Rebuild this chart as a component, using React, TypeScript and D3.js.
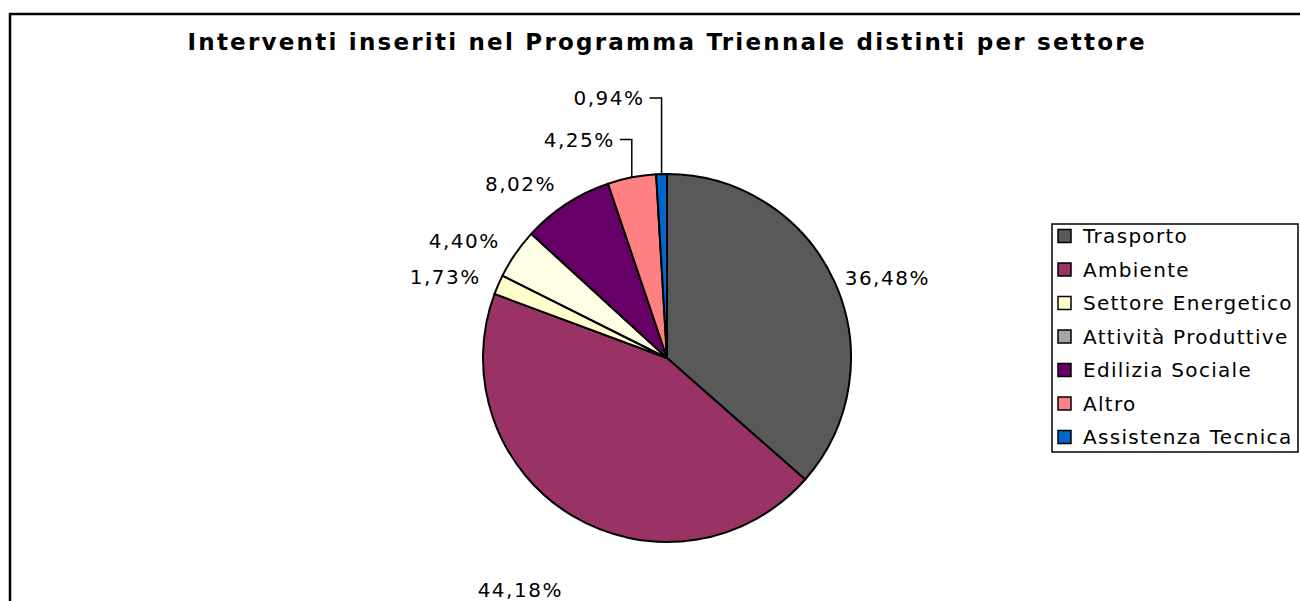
import React from "react";
import * as d3 from "d3";

const categories = [
  "Trasporto",
  "Ambiente",
  "Settore Energetico",
  "Attività Produttive",
  "Edilizia Sociale",
  "Altro",
  "Assistenza Tecnica",
];
const values = [36.48, 44.18, 1.73, 4.4, 8.02, 4.25, 0.94];
const labels = ["36,48%", "44,18%", "1,73%", "4,40%", "8,02%", "4,25%", "0,94%"];
const title = "Interventi inseriti nel Programma Triennale distinti per settore";

const sliceColors = ["#595959", "#993366", "#FFFFCC", "#FFFFE6", "#660066", "#FF8080", "#0066CC"];
const legendColors = ["#595959", "#993366", "#FFFFCC", "#A6A6A6", "#660066", "#FF8080", "#0066CC"];

// layout (not data)
const W = 1300;
const H = 601;
const cx = 667;
const cy = 358;
const R = 184;
const labelRadius = [195, 203, 203, 203, 203, 203, 203];
const labelShiftY = [0, 58, 0, -2, -4, 0, 0];
const leaderRise = [0, 0, 0, 0, 0, 38, 76];
const FONT = "'DejaVu Sans', Verdana, sans-serif";

export default function App() {
  const pie = d3
    .pie<number>()
    .sort(null)
    .value((d) => d)
    .startAngle(0)
    .endAngle(2 * Math.PI);
  const arcs = pie(values);
  const arc = d3.arc<d3.PieArcDatum<number>>().innerRadius(0).outerRadius(R);

  const labelEls = arcs.map((a, i) => {
    const mid = (a.startAngle + a.endAngle) / 2;
    const s = Math.sin(mid);
    const c = Math.cos(mid);
    if (leaderRise[i] > 0) {
      const ex = cx + R * s;
      const ey = cy - R * c;
      const ly = ey - leaderRise[i];
      return (
        <g key={i}>
          <path d={`M${ex},${ey} L${ex},${ly} L${ex - 12},${ly}`} fill="none" stroke="#000" strokeWidth={1.5} />
          <text
            x={ex - 17}
            y={ly}
            dy="0.36em"
            textAnchor="end"
            fontFamily={FONT}
            fontSize={20}
            letterSpacing={1.5}
          >
            {labels[i]}
          </text>
        </g>
      );
    }
    const x = cx + labelRadius[i] * s;
    const y = cy - labelRadius[i] * c + labelShiftY[i];
    return (
      <text
        key={i}
        x={x}
        y={y}
        dy="0.36em"
        textAnchor={s < 0 ? "end" : "start"}
        fontFamily={FONT}
        fontSize={20}
        letterSpacing={1.5}
      >
        {labels[i]}
      </text>
    );
  });

  const legendX = 1052;
  const legendY = 224;
  const legendRow = 33.5;

  return (
    <svg width={W} height={H} style={{ position: "absolute", left: 0, top: 0 }}>
      <rect x={0} y={0} width={W} height={H} fill="#fff" />
      <path d={`M10,${H + 5} L10,14 L${W + 5},14`} fill="none" stroke="#000" strokeWidth={2.5} />
      <text
        x={666}
        y={50}
        textAnchor="middle"
        fontFamily={FONT}
        fontWeight="bold"
        fontSize={23}
        textLength={957}
        lengthAdjust="spacing"
      >
        {title}
      </text>
      <g transform={`translate(${cx},${cy})`}>
        {arcs.map((a, i) => (
          <path key={i} d={arc(a) || ""} fill={sliceColors[i]} stroke="#000" strokeWidth={2} strokeLinejoin="round" />
        ))}
      </g>
      {labelEls}
      <rect x={legendX} y={legendY} width={W - legendX - 2} height={228} fill="#fff" stroke="#000" strokeWidth={1.5} />
      {categories.map((c, i) => {
        const y = legendY + 12 + i * legendRow;
        return (
          <g key={c}>
            <rect x={legendX + 6} y={y - 6.5} width={13} height={13} fill={legendColors[i]} stroke="#000" strokeWidth={1.5} />
            <text x={legendX + 31} y={y} dy="0.36em" fontFamily={FONT} fontSize={20} letterSpacing={1.3}>
              {c}
            </text>
          </g>
        );
      })}
    </svg>
  );
}
